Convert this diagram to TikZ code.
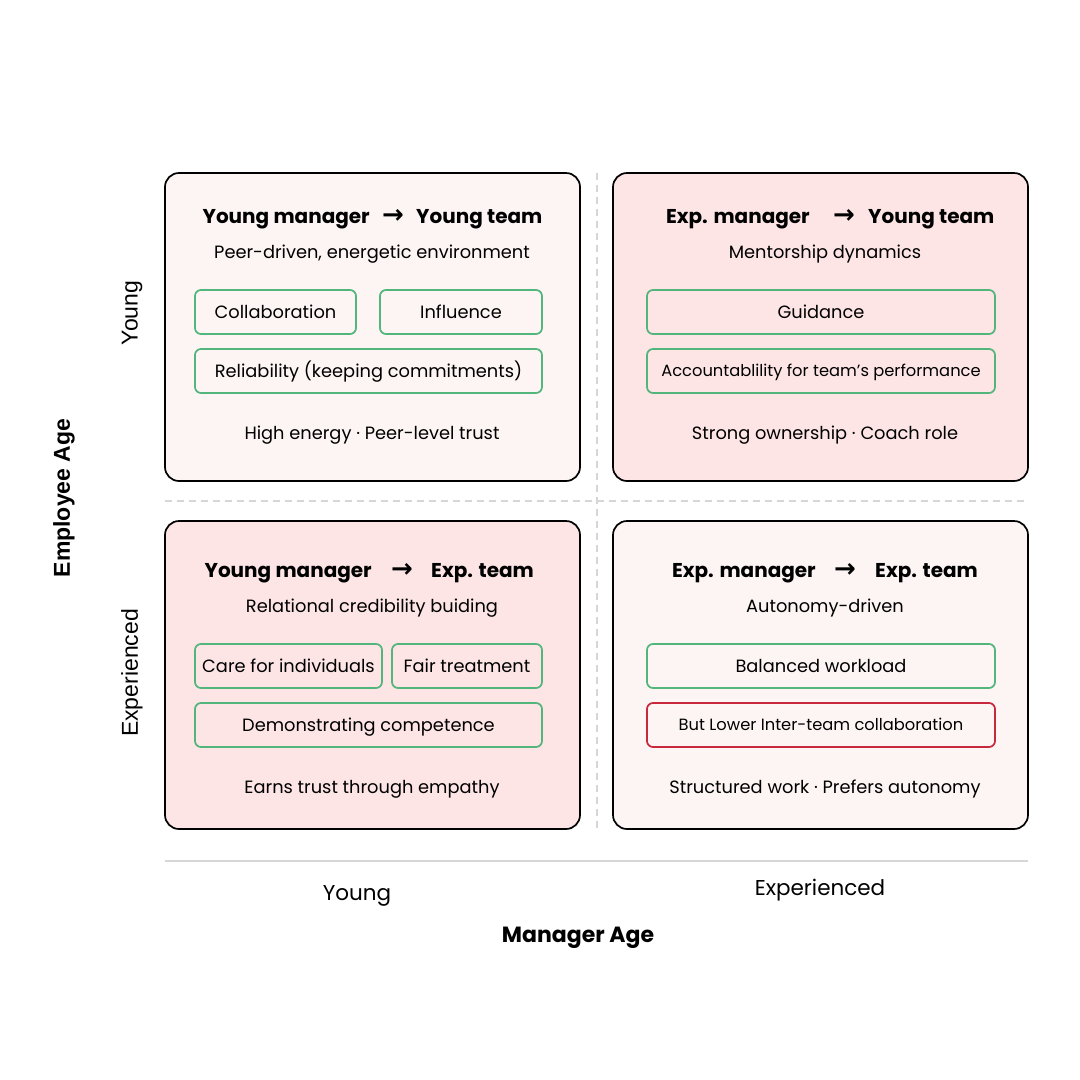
\documentclass[tikz,border=0pt]{standalone}
\usepackage{fontspec}
\setmainfont{Poppins}
\newfontfamily\arialf{Liberation Sans}
\newfontfamily\symf{DejaVu Sans}
\definecolor{lightq}{HTML}{FDF5F4}
\definecolor{darkq}{HTML}{FDE5E5}
\definecolor{chipgreen}{HTML}{52B57C}
\definecolor{chipred}{HTML}{C8283C}
\definecolor{divider}{HTML}{D6D6D6}
\begin{document}
\begin{tikzpicture}[x=1pt,y=-1pt,
  quad/.style={draw=black, line width=1.7pt, rounded corners=14pt, minimum width=415pt, minimum height=308pt, inner sep=0pt},
  chip/.style={draw=chipgreen, line width=1.7pt, rounded corners=6pt, minimum height=44pt, inner sep=0pt, font=\fontsize{17.8}{21}\selectfont, text height=12.5pt, text depth=0pt},
  smallchip/.style={font=\fontsize{16.3}{19}\selectfont, text height=11.5pt},
  redchip/.style={chip, draw=chipred},
  ttl/.style={font=\fontsize{20}{24}\selectfont\bfseries, anchor=base, inner sep=0pt},
  arr/.style={font=\fontsize{26}{30}\selectfont\symf\bfseries, anchor=base, inner sep=0pt},
  sub/.style={font=\fontsize{17.8}{21}\selectfont, anchor=base, inner sep=0pt},
  axlab/.style={font=\fontsize{21.5}{25}\selectfont, anchor=base, inner sep=0pt},
  axtitle/.style={font=\fontsize{22}{26}\selectfont\bfseries, anchor=base, inner sep=0pt},
  sidelab/.style={font=\fontsize{23}{27}\selectfont\arialf, rotate=90, inner sep=0pt},
  divline/.style={draw=divider, line width=2pt, dash pattern=on 7pt off 5pt}
]
\useasboundingbox[fill=white] (0,0) rectangle (1080,1080);

% dividers
\draw[divline] (597,173) -- (597,829);
\draw[divline] (165,501) -- (1028,501);

% quadrants
\node[quad, fill=lightq] (tl) at (372.5,327) {};
\node[quad, fill=darkq]  (tr) at (820.5,327) {};
\node[quad, fill=darkq]  (bl) at (372.5,675) {};
\node[quad, fill=lightq] (br) at (820.5,675) {};

% TL
\node[ttl, anchor=base east] (tlA) at (370,223) {Young manager};
\node[arr] (tlB) at (393,223) {→};
\node[ttl, anchor=base west] (tlC) at (416,223) {Young team};
\node[sub] (tlS) at (372,258) {Peer-driven, energetic environment};
\node[chip, minimum width=161pt] (tl1) at (275.5,312) {Collaboration};
\node[chip, minimum width=162pt] (tl2) at (461,312) {Influence};
\node[chip, minimum width=347pt] (tl3) at (368.5,371) {Reliability (keeping commitments)};
\node[sub] (tlF) at (372,439) {High energy · Peer-level trust};

% TR
\node[ttl, anchor=base east] (trA) at (810,223) {Exp. manager};
\node[arr] (trB) at (844,223) {→};
\node[ttl, anchor=base west] (trC) at (868,223) {Young team};
\node[sub] (trS) at (825,258) {Mentorship dynamics};
\node[chip, minimum width=348pt] (tr1) at (821,312) {Guidance};
\node[chip, smallchip, minimum width=348pt] (tr2) at (821,371) {Accountablility for team’s performance};
\node[sub] (trF) at (825,439) {Strong ownership · Coach role};

% BL
\node[ttl, anchor=base east] (blA) at (372,577) {Young manager};
\node[arr] (blB) at (402,577) {→};
\node[ttl, anchor=base west] (blC) at (431,577) {Exp. team};
\node[sub] (blS) at (372,612) {Relational credibility buiding};
\node[chip, minimum width=187pt] (bl1) at (288.5,666) {Care for individuals};
\node[chip, minimum width=150pt] (bl2) at (467,666) {Fair treatment};
\node[chip, minimum width=347pt] (bl3) at (368.5,725) {Demonstrating competence};
\node[sub] (blF) at (372,793) {Earns trust through empathy};

% BR
\node[ttl, anchor=base east] (brA) at (816,577) {Exp. manager};
\node[arr] (brB) at (845,577) {→};
\node[ttl, anchor=base west] (brC) at (875,577) {Exp. team};
\node[sub] (brS) at (825,612) {Autonomy-driven};
\node[chip, minimum width=348pt] (br1) at (821,666) {Balanced workload};
\node[redchip, smallchip, minimum width=348pt] (br2) at (821,725) {But Lower Inter-team collaboration};
\node[sub] (brF) at (825,793) {Structured work · Prefers autonomy};

% bottom axis
\draw[draw=divider, line width=2pt] (165,861) -- (1028,861);
\node[axlab] (xy) at (357,900) {Young};
\node[axlab] (xe) at (820,895) {Experienced};
\node[axtitle] (xt) at (578,942) {Manager Age};

% left axis
\node[sidelab] (yy) at (132,313) {Young};
\node[sidelab] (ye) at (132,673) {Experienced};
\node[sidelab, font=\fontsize{23}{27}\selectfont\arialf\bfseries] (yt) at (64,498) {Employee Age};
\end{tikzpicture}
\end{document}
